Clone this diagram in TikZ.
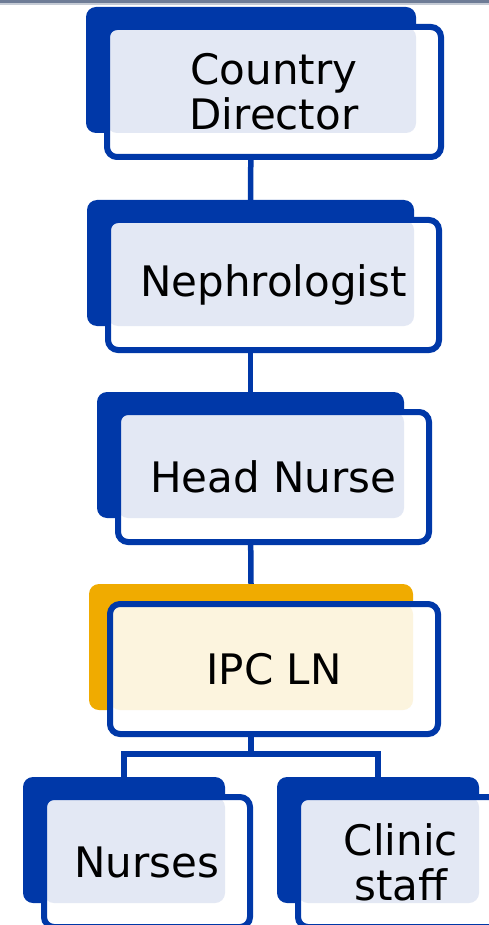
\documentclass[tikz,border=0pt]{standalone}
\usepackage{fontspec}
\setmainfont{DejaVu Sans}
\usetikzlibrary{math}

\definecolor{orgblue}{HTML}{0038A8}
\definecolor{orgorange}{HTML}{F0AB00}
\definecolor{paleblue}{HTML}{E3E8F4}
\definecolor{palecream}{HTML}{FCF4DE}
\definecolor{barslate}{HTML}{6E7C96}

\begin{document}
\begin{tikzpicture}[x=1pt,y=-1pt,
    backbox/.style={rectangle,rounded corners=10pt,minimum height=126pt,inner sep=0pt},
    frontbox/.style={rectangle,draw=orgblue,line width=6pt,fill=white,rounded corners=10pt,
      minimum height=130pt,inner sep=0pt,align=center,
      font=\fontsize{42}{45}\selectfont,
      path picture={\fill[#1] (path picture bounding box.north west) rectangle
        ([xshift=-25pt,yshift=24pt]path picture bounding box.south east);}},
    conn/.style={draw=orgblue,line width=5.5pt}]
      \useasboundingbox (0,0) rectangle (489,925);
      \clip (0,0) rectangle (489,925);
      \fill[barslate] (0,0) rectangle (489,3);
      \fill[barslate!40] (0,3) rectangle (489,5);
      \foreach \n/\x/\y/\w/\c in {CD/86/7/330/orgblue,NP/87/200/327/orgblue,HN/97/392/307/orgblue,
        IP/89/584/324/orgorange,NU/23/777/202/orgblue,CS/277/777/202/orgblue} {
        \tikzmath{\bx=\x+\w/2; \by=\y+63;}
        \node[backbox,fill=\c,minimum width=\w] (\n-bk) at (\bx,\by) {};
      }
      \draw[conn] (CD-bk.south) -- (NP-bk.north);
      \draw[conn] (NP-bk.south) -- (HN-bk.north);
      \draw[conn] (HN-bk.south) -- (IP-bk.north);
      \coordinate (split) at (251,754);
      \draw[conn] (IP-bk.south) -- (split) -| (NU-bk.north);
      \draw[conn] (split) -| (CS-bk.north);
      \foreach \n/\x/\y/\w/\f/\t in {CD/86/7/330/paleblue/{Country\\Director},
        NP/87/200/327/paleblue/{Nephrologist},HN/97/392/307/paleblue/{Head Nurse},
        IP/89/584/324/palecream/{IPC LN},NU/23/777/202/paleblue/{Nurses},
        CS/277/777/202/paleblue/{Clinic\\staff}} {
        \tikzmath{\fx=\x+23+\w/2; \fy=\y+85; \fw=\w+4;}
        \node[frontbox=\f,minimum width=\fw] (\n) at (\fx,\fy) {\t};
      }
\end{tikzpicture}
\end{document}
